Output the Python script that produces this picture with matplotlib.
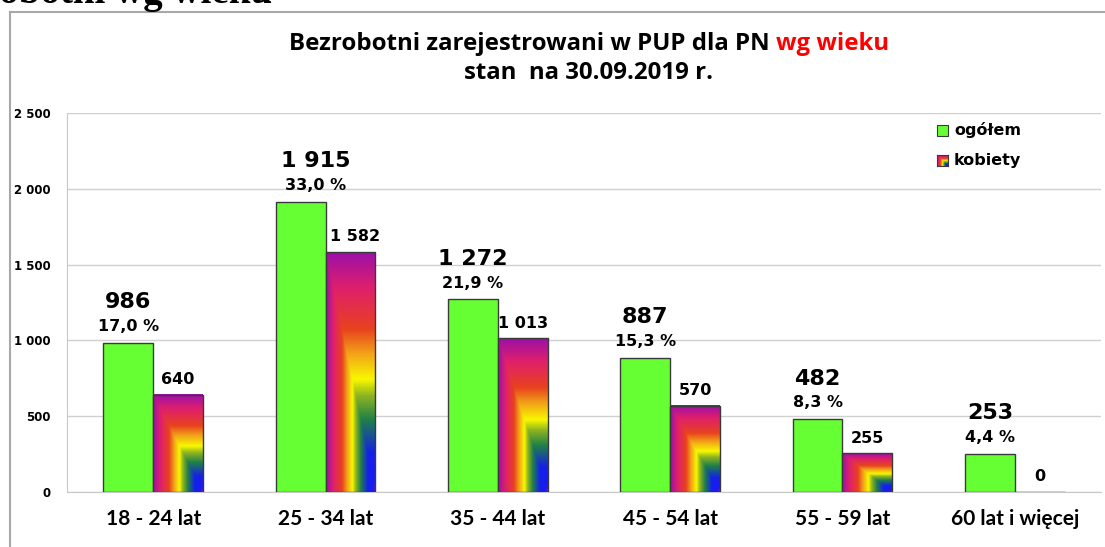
import numpy as np
import matplotlib
matplotlib.use('Agg')
import matplotlib.pyplot as plt
from matplotlib.colors import LinearSegmentedColormap
from matplotlib.lines import Line2D
from matplotlib.patches import Rectangle

categories = ['18 - 24 lat', '25 - 34 lat', '35 - 44 lat', '45 - 54 lat', '55 - 59 lat', '60 lat i więcej']
ogolem = [986, 1915, 1272, 887, 482, 253]
kobiety = [640, 1582, 1013, 570, 255, 0]
udzial = ['17,0 %', '33,0 %', '21,9 %', '15,3 %', '8,3 %', '4,4 %']
yticks = [0, 500, 1000, 1500, 2000, 2500]
ytick_labels = ['0', '500', '1 000', '1 500', '2 000', '2 500']
series_names = ['ogółem', 'kobiety']
title_black = 'Bezrobotni zarejestrowani w PUP dla PN '
title_red = 'wg wieku'
title_line2 = 'stan  na 30.09.2019 r.'


def fmt(v):
    return f'{v:,}'.replace(',', ' ')


W, H = 1105, 547
fig = plt.figure(figsize=(W / 100, H / 100), dpi=100)
fig.patch.set_facecolor('white')

# rainbow "from corner" gradient
rainbow = LinearSegmentedColormap.from_list('rb', [
    (0.00, '#7a18b8'), (0.04, '#1a1af5'), (0.16, '#1420e8'),
    (0.30, '#1f8048'), (0.40, '#8cb422'), (0.47, '#f8f800'),
    (0.58, '#f2a018'), (0.68, '#e8421e'), (0.85, '#e0206a'),
    (1.00, '#9c10a8')])
n = 200
U, V = np.meshgrid(np.linspace(0, 1, n), np.linspace(0, 1, n))
grad = np.maximum(1 - U, V)

ax = fig.add_axes([67 / W, 1 - 492 / H, (1101 - 67) / W, (492 - 113) / H])
x = np.arange(len(categories))
bw = 0.29
green = '#66ff33'
edge = '#3a3a3a'

ax.bar(x - bw / 2, ogolem, bw, color=green, edgecolor=edge, linewidth=1, zorder=3)
kb = ax.bar(x + bw / 2, kobiety, bw, color='none', edgecolor=edge, linewidth=1, zorder=4)
for rect, v in zip(kb, kobiety):
    if v > 0:
        x0 = rect.get_x()
        ax.imshow(grad, cmap=rainbow, origin='lower', aspect='auto',
                  extent=[x0, x0 + rect.get_width(), 0, v], zorder=3,
                  interpolation='bilinear')

ax.set_xlim(-0.5, len(categories) - 0.5)
ax.set_ylim(0, 2500)
ax.set_yticks(yticks)
ax.set_yticklabels(ytick_labels, fontsize=8.5, fontweight='bold', family='DejaVu Sans')
ax.set_xticks(x)
ax.set_xticklabels(categories, fontsize=15, fontweight='bold', family='Lato')
ax.tick_params(axis='y', length=0, pad=12)
ax.tick_params(axis='x', length=0, pad=12)
ax.yaxis.grid(True, color='#d0d0d0', linewidth=1)
ax.set_axisbelow(True)
for s in ['top', 'right']:
    ax.spines[s].set_visible(False)
ax.spines['left'].set_color('#c8c8c8')
ax.spines['bottom'].set_color('#c8c8c8')

# value labels (the 25-34 group labels sit slightly to the right in the original)
label_shift = {1: 11}
for i, (xi, v, p) in enumerate(zip(x, ogolem, udzial)):
    dx = label_shift.get(i, 0)
    ax.annotate(fmt(v), (xi - bw / 2, v), xytext=(dx, 29), textcoords='offset points',
                ha='center', va='center', fontsize=16, fontweight='bold', family='DejaVu Sans')
    ax.annotate(p, (xi - bw / 2, v), xytext=(dx, 11.5), textcoords='offset points',
                ha='center', va='center', fontsize=11.5, fontweight='bold', family='DejaVu Sans')
for i, (xi, v) in enumerate(zip(x, kobiety)):
    dx = 3 if i == 1 else 0
    ax.annotate(fmt(v), (xi + bw / 2, v), xytext=(dx, 11), textcoords='offset points',
                ha='center', va='center', fontsize=11.5, fontweight='bold', family='DejaVu Sans')

# legend (manual)
fig.add_artist(Rectangle((937 / W, 1 - 136 / H), 11 / W, 11 / H, transform=fig.transFigure,
                         facecolor=green, edgecolor=edge, linewidth=0.8))
lax = fig.add_axes([937 / W, 1 - 166 / H, 11 / W, 11 / H])
lax.imshow(grad, cmap=rainbow, origin='lower', aspect='auto', interpolation='bilinear')
lax.set_xticks([]); lax.set_yticks([])
for s in lax.spines.values():
    s.set_color(edge); s.set_linewidth(0.8)
fig.text(954 / W, 1 - 130 / H, series_names[0], ha='left', va='center', fontsize=11.5,
         fontweight='bold', family='DejaVu Sans')
fig.text(954 / W, 1 - 160 / H, series_names[1], ha='left', va='center', fontsize=11.5,
         fontweight='bold', family='DejaVu Sans')

# chart border
fig.add_artist(Line2D([10 / W, 10 / W], [0, 1 - 12 / H], transform=fig.transFigure,
                      color='#a8a8a8', linewidth=1.5))
fig.add_artist(Line2D([10 / W, 1], [1 - 12 / H, 1 - 12 / H], transform=fig.transFigure,
                      color='#a8a8a8', linewidth=1.5))

# cut-off heading from page above
fig.text(272 / W, 1 - 3 / H, 'Bezrobotni wg wieku', ha='right', va='baseline', fontsize=28,
         fontweight='bold', family='Liberation Serif')

# title with red part
fig.canvas.draw()
r = fig.canvas.get_renderer()
ty1 = 1 - 44 / H
tsize = 17.3
t1 = fig.text(0, ty1, title_black, ha='left', va='center', fontsize=tsize,
              fontweight='bold', family='Open Sans')
t2 = fig.text(0, ty1, title_red, ha='left', va='center', fontsize=tsize,
              fontweight='bold', family='Open Sans', color='#ff0000')
w1 = t1.get_window_extent(r).width
w2 = t2.get_window_extent(r).width
start = 589 - (w1 + w2) / 2
t1.set_x(start / W)
t2.set_x((start + w1) / W)
fig.text(589 / W, 1 - 73 / H, title_line2, ha='center', va='center', fontsize=tsize,
         fontweight='bold', family='Open Sans')

fig.savefig('out.png', dpi=100)
